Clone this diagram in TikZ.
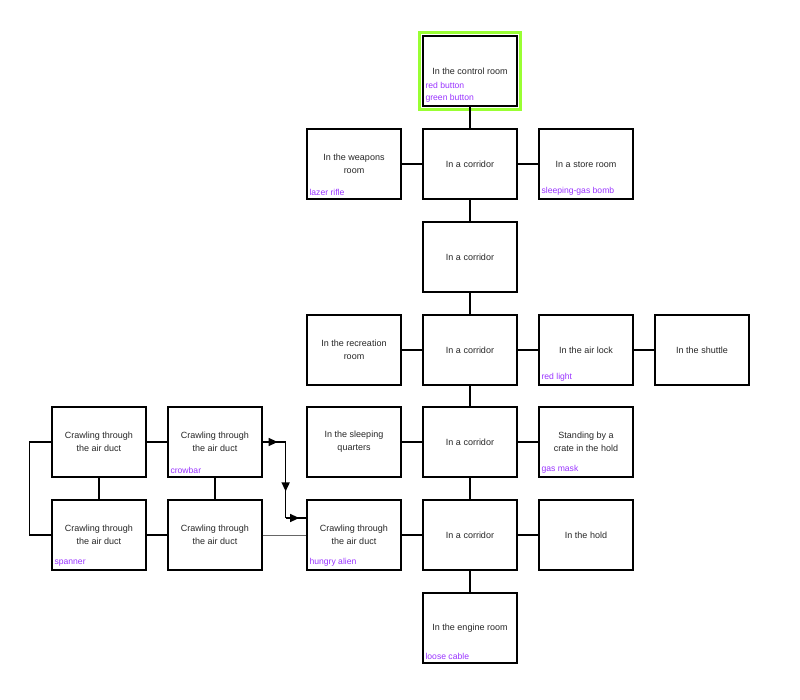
\documentclass[tikz,border=0pt]{standalone}
\usepackage{fontspec}
\setmainfont{Liberation Sans}
\usetikzlibrary{decorations.markings,arrows.meta}
\definecolor{itemviolet}{RGB}{153,51,255}
\definecolor{ctrlgreen}{RGB}{153,255,51}

\begin{document}
\begin{tikzpicture}[x=1pt,y=-1pt]
        \tikzstyle{room}=[draw,line width=1.3pt,minimum width=94pt,minimum height=70pt,align=center,font=\fontsize{9}{13}\selectfont,text=black!85]
        \tikzstyle{item}=[anchor=south west,inner sep=0pt,align=left,text=itemviolet,font=\fontsize{8.6}{12}\selectfont]
        \tikzstyle{link}=[line width=1.6pt]
        \tikzstyle{midarrow}=[postaction={decorate},decoration={markings,mark=at position 0.65 with {\arrow{Triangle[length=9pt,width=8pt]}}}]
        \useasboundingbox (0,0) rectangle (800,700);
        % the ship
        \node[room] (ctrl) at (470,71) {In the control room};
        \draw[ctrlgreen,line width=3pt] ([shift={(-2.5,-2.5)}]ctrl.north west) rectangle ([shift={(2.5,2.5)}]ctrl.south east);
        \node[item] (ctrlitem) at ([shift={(3,-4)}]ctrl.south west) {red button\\green button};
        \node[room] (weapons) at (354,164) {In the weapons\\room};
        \node[item] (weaponsitem) at ([shift={(3,-4)}]weapons.south west) {lazer rifle};
        \node[room] (corr1) at (470,164) {In a corridor};
        \node[room] (store) at (586,164) {In a store room};
        \node[item] (storeitem) at ([shift={(3,-4)}]store.south west) {sleeping-gas bomb};
        \node[room] (corr2) at (470,257) {In a corridor};
        \node[room] (recreation) at (354,350) {In the recreation\\room};
        \node[room] (corr3) at (470,350) {In a corridor};
        \node[room] (airlock) at (586,350) {In the air lock};
        \node[item] (airlockitem) at ([shift={(3,-4)}]airlock.south west) {red light};
        \node[room] (shuttle) at (702,350) {In the shuttle};
        \node[room] (sleeping) at (354,442) {In the sleeping\\quarters};
        \node[room] (corr4) at (470,442) {In a corridor};
        \node[room] (crate) at (586,442) {Standing by a\\crate in the hold};
        \node[item] (crateitem) at ([shift={(3,-4)}]crate.south west) {gas mask};
        \node[room] (alien) at (354,535) {Crawling through\\the air duct};
        \node[item] (alienitem) at ([shift={(3,-4)}]alien.south west) {hungry alien};
        \node[room] (corr5) at (470,535) {In a corridor};
        \node[room] (hold) at (586,535) {In the hold};
        \node[room] (engine) at (470,628) {In the engine room};
        \node[item] (engineitem) at ([shift={(3,-4)}]engine.south west) {loose cable};
        % the air ducts
        \node[room] (duct1) at (99,442) {Crawling through\\the air duct};
        \node[room] (duct2) at (215,442) {Crawling through\\the air duct};
        \node[item] (duct2item) at ([shift={(3,-4)}]duct2.south west) {crowbar};
        \node[room] (duct3) at (99,535) {Crawling through\\the air duct};
        \node[item] (duct3item) at ([shift={(3,-4)}]duct3.south west) {spanner};
        \node[room] (duct4) at (215,535) {Crawling through\\the air duct};
        \coordinate (bend1) at ([xshift=23]duct2.east);
        \coordinate (inlet) at ([yshift=17pt]alien.west);
        \coordinate (bend2) at (bend1 |- inlet);
        \coordinate (loop) at ([xshift=-22]duct1.west);
        \draw[link] (ctrl) -- (corr1);
        \draw[link] (weapons) -- (corr1) -- (store);
        \draw[link] (corr1) -- (corr2) -- (corr3);
        \draw[link] (recreation) -- (corr3) -- (airlock) -- (shuttle);
        \draw[link] (corr3) -- (corr4);
        \draw[link] (sleeping) -- (corr4) -- (crate);
        \draw[link] (corr4) -- (corr5) -- (engine);
        \draw[link] (alien) -- (corr5) -- (hold);
        \draw[link] (duct1) -- (duct2);
        \draw[link] (duct1) -- (duct3);
        \draw[link] (duct2) -- (duct4);
        \draw[link] (duct3) -- (duct4);
        \draw[link] (duct1.west) -- (loop) |- (duct3.west);
        \draw[line width=1pt,black!60] (duct4) -- (alien);
        \draw[link,midarrow] (duct2.east) -- (bend1);
        \draw[link,midarrow] (bend1) -- (bend2);
        \draw[link,midarrow] (bend2) -- (inlet);
\end{tikzpicture}
\end{document}
